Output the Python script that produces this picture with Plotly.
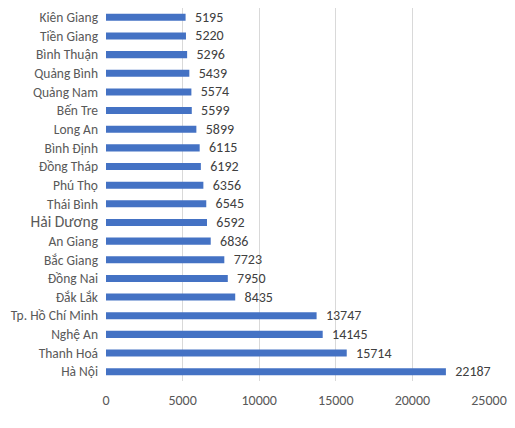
import plotly.graph_objects as go

# Tỉnh / thành phố, từ trên xuống dưới
provinces = ['Kiên Giang', 'Tiền Giang', 'Bình Thuận', 'Quảng Bình', 'Quảng Nam', 'Bến Tre',
             'Long An', 'Bình Định', 'Đồng Tháp', 'Phú Thọ', 'Thái Bình', 'Hải Dương',
             'An Giang', 'Bắc Giang', 'Đồng Nai', 'Đắk Lắk', 'Tp. Hồ Chí Minh', 'Nghệ An',
             'Thanh Hoá', 'Hà Nội']
values = [5195, 5220, 5296, 5439, 5574, 5599, 5899, 6115, 6192, 6356, 6545, 6592,
          6836, 7723, 7950, 8435, 13747, 14145, 15714, 22187]
x_ticks = [0, 5000, 10000, 15000, 20000, 25000]

# Hải Dương được ghi cỡ chữ lớn hơn trong bản gốc
tick_text = [f'<span style="font-size:15.5px">{p}</span>' if p == 'Hải Dương' else p for p in provinces]

fig = go.Figure()
fig.add_trace(
    go.Bar(
        x=values, y=provinces, orientation='h',
        marker={'color': '#4472C4', 'line': {'width': 0}},
        text=[str(v) for v in values], texttemplate='\u00a0\u00a0%{text}', textposition='outside',
        textfont={'color': '#404040', 'size': 14},
        constraintext='none', cliponaxis=False,
    )
)

fig.update_layout(
    width=515, height=428,
    margin={'l': 106, 'r': 26, 't': 8, 'b': 47, 'autoexpand': False},
    paper_bgcolor='white', plot_bgcolor='white',
    font={'family': 'Carlito, Lato, Open Sans, sans-serif', 'size': 13.5, 'color': '#595959'},
    bargap=0.62,
    showlegend=False,
)
fig.update_xaxes(
    range=[0, 25000], tickvals=x_ticks, ticktext=[str(t) for t in x_ticks],
    tickfont={'size': 14},
    showgrid=True, gridcolor='#d9d9d9', gridwidth=1, zeroline=False,
    showline=False, ticks='', ticklabelstandoff=9, automargin=False,
)
fig.update_yaxes(
    autorange='reversed', tickvals=provinces, ticktext=tick_text,
    showgrid=False, showline=False, ticks='', ticklabelstandoff=7, automargin=False,
)

# bỏ lề mặc định của trang để hình nằm sát góc, ẩn thanh công cụ
fig.write_html('out.html', config={'displayModeBar': False},
               post_script="document.body.style.margin='0';")
